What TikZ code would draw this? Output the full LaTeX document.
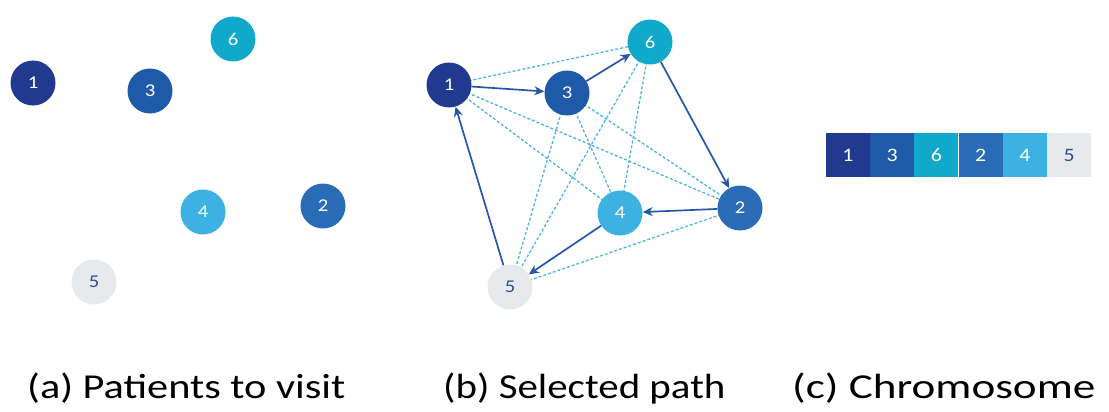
\documentclass[tikz,border=0pt]{standalone}
\usepackage{fontspec}
\setmainfont{Carlito}
\usetikzlibrary{arrows.meta,backgrounds}
\definecolor{cA}{HTML}{213A8F}
\definecolor{cB}{HTML}{2B6CB6}
\definecolor{cC}{HTML}{1F5AA8}
\definecolor{cD}{HTML}{3EB1E3}
\definecolor{cE}{HTML}{E7EAED}
\definecolor{cF}{HTML}{10A9CB}
\definecolor{ink}{HTML}{2E4F8F}
\definecolor{pathcol}{HTML}{2557A8}
\definecolor{linkcol}{HTML}{50B4E3}
\newcommand{\wide}[1]{\scalebox{1.15}[1]{#1}}
\newcommand{\widecap}[2][1.2]{\scalebox{#1}[1]{#2}}
\tikzset{
  patient/.style={circle, minimum size=45pt, inner sep=0pt, font=\fontsize{18}{18}\selectfont, text=white},
  gene/.style={rectangle, minimum width=43.83pt, minimum height=44pt, inner sep=0pt, font=\fontsize{19}{19}\selectfont, text=white},
  route/.style={draw=pathcol, line width=1.7pt, -{Stealth[length=10pt,width=9pt]}},
  link/.style={draw=linkcol, line width=1.3pt, dash pattern=on 3pt off 2pt},
  caption/.style={anchor=base west, inner sep=0pt, font=\fontsize{35}{35}\selectfont}
}
\begin{document}
\begin{tikzpicture}[x=1pt, y=-1pt]
\useasboundingbox (0,0) rectangle (1109,412);
% (a) patients
\node[patient, fill=cA] (a1) at (33,83) {\wide{1}};
\node[patient, fill=cC] (a3) at (150,91) {\wide{3}};
\node[patient, fill=cF] (a6) at (233,39) {\wide{6}};
\node[patient, fill=cD] (a4) at (203,212) {\wide{4}};
\node[patient, fill=cB] (a2) at (323,206) {\wide{2}};
\node[patient, fill=cE, text=ink] (a5) at (94,282) {\wide{5}};
% (b) selected path
\node[patient, fill=cA] (b1) at (449,85) {\wide{1}};
\node[patient, fill=cC] (b3) at (567,93) {\wide{3}};
\node[patient, fill=cF] (b6) at (650,42) {\wide{6}};
\node[patient, fill=cB] (b2) at (740,208) {\wide{2}};
\node[patient, fill=cD] (b4) at (620,213) {\wide{4}};
\node[patient, fill=cE, text=ink] (b5) at (510,287) {\wide{5}};
\begin{scope}[on background layer]
\foreach \u/\v in {b1/b6, b1/b2, b1/b4, b3/b5, b3/b4, b3/b2, b6/b5, b6/b4, b2/b5}
  \draw[link] (\u.center) -- (\v.center);
\end{scope}
\draw[route] (b1) -- (b3);
\draw[route] (b3) -- (b6);
\draw[route] (b6) -- (b2);
\draw[route] (b2) -- (b4);
\draw[route] (b4) -- (b5);
\draw[route] (b5) -- (b1);
% (c) chromosome
\node[gene, fill=cA] (g1) at (847.9,155) {\wide{1}};
\node[gene, fill=cC, anchor=west] (g2) at (g1.east) {\wide{3}};
\node[gene, fill=cF, anchor=west] (g3) at (g2.east) {\wide{6}};
\node[gene, fill=cB, anchor=west] (g4) at (g3.east) {\wide{2}};
\node[gene, fill=cD, anchor=west] (g5) at (g4.east) {\wide{4}};
\node[gene, fill=cE, text=ink, anchor=west] (g6) at (g5.east) {\wide{5}};
% captions
\node[caption] (ca) at (27,398) {\widecap[1.21]{(a) Patients to visit}};
\node[caption] (cb) at (443,398) {\widecap[1.17]{(b) Selected path}};
\node[caption] (cc) at (792,398) {\widecap[1.29]{(c) Chromosome}};
\end{tikzpicture}
\end{document}
